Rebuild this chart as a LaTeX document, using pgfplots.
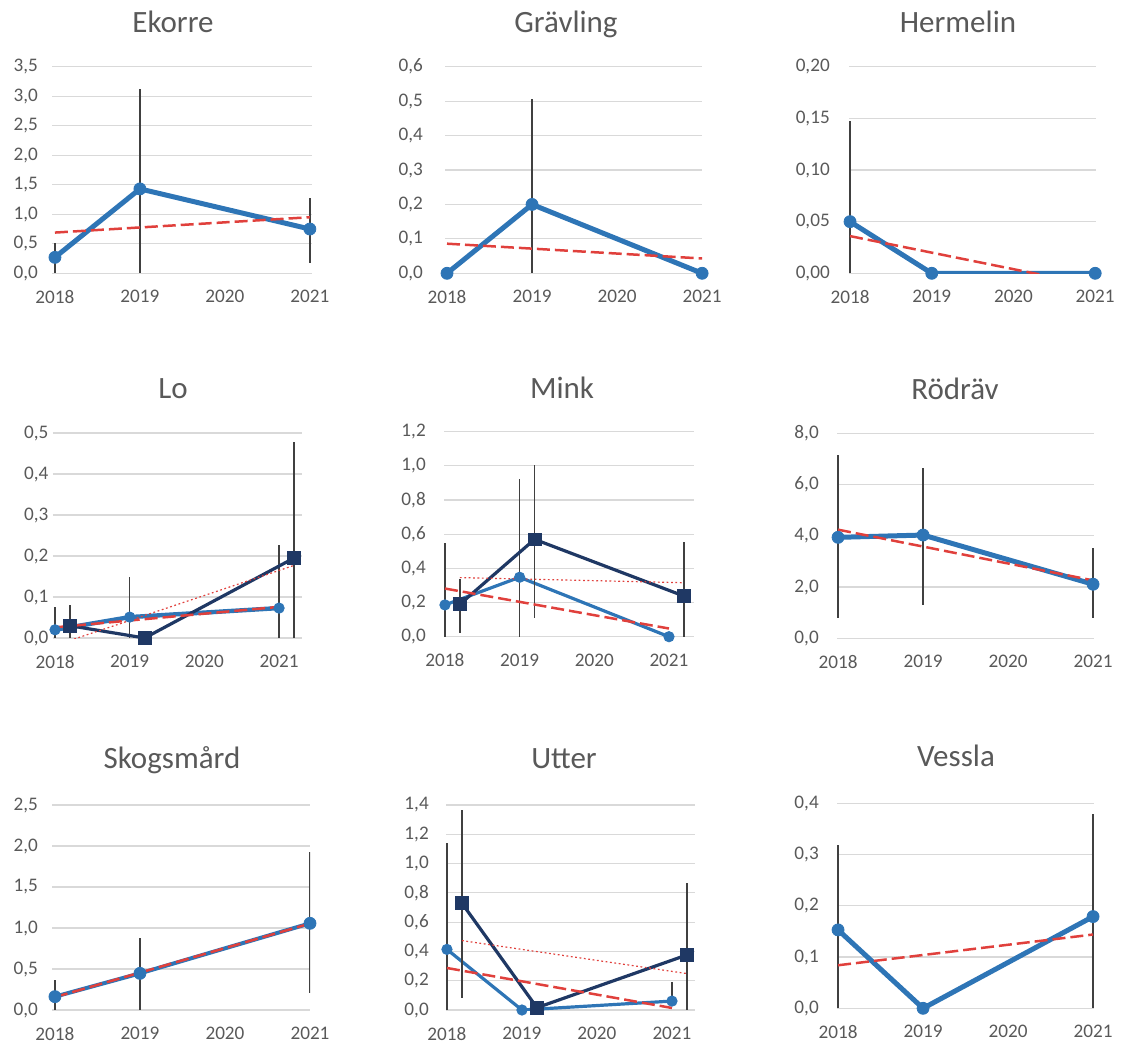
\documentclass[border=0pt]{standalone}
\usepackage{fontspec}
\setmainfont{Carlito}
\usepackage{pgfplots}
\pgfplotsset{compat=1.18}
\definecolor{cblue}{HTML}{2E75B6}
\definecolor{cnavy}{HTML}{1F3864}
\definecolor{cred}{HTML}{E0403C}
\definecolor{cgrid}{HTML}{D9D9D9}
\definecolor{clab}{HTML}{595959}
\definecolor{cerr}{HTML}{404040}
\pgfplotsset{
 panel/.style={
  scale only axis, anchor=south west,
  xtick={0,1,2,3}, xticklabels={2018,2019,2020,2021},
  ymin=0,
  axis line style={draw=none},
  major tick length=0pt,
  ymajorgrids, major grid style={draw=cgrid, line width=0.6pt},
  tick label style={font=\fontsize{9.6}{11}\selectfont, text=clab},
  xticklabel style={yshift=-5pt},
  /pgf/number format/fixed, /pgf/number format/fixed zerofill,
  /pgf/number format/precision=1, /pgf/number format/use comma,
  /pgf/number format/assume math mode=true,
 },
 errs/.style={/pgfplots/error bars/y dir=both, /pgfplots/error bars/y explicit,
  /pgfplots/error bars/error mark=none,
  /pgfplots/error bars/error bar style={line width=0.7pt, color=cerr, solid}},
 blue1/.style={color=cblue, line width=2.5pt, mark=*, mark size=3pt, mark options={solid, line width=0.4pt}, errs},
 blue2/.style={color=cblue, line width=1.6pt, mark=*, mark size=2.6pt, mark options={solid, line width=0.4pt}, errs},
 navy/.style={color=cnavy, line width=1.6pt, mark=square*, mark size=3.2pt, mark options={solid, line width=0.4pt}, errs},
 trendD/.style={color=cred, line width=1.25pt, dash pattern=on 6.5pt off 2.5pt, mark=none},
 trendT/.style={color=cred, line width=0.6pt, dash pattern=on 0.9pt off 1.3pt, mark=none},
}
\tikzset{ttl/.style={anchor=base, font=\fontsize{15.5}{18}\selectfont, text=clab}}
\begin{document}
\begin{tikzpicture}
\useasboundingbox (0,0) rectangle (561pt,523pt);
% ---------- Row 1 ----------
\node[ttl] at (86.5pt,506.8pt) {Ekorre};
\begin{axis}[panel, at={(26.2pt,386.35pt)}, width=130pt, height=103.3pt,
  xmin=-0.03, xmax=3.03, ymax=3.5, ytick={0,0.5,1,1.5,2,2.5,3,3.5},
  yticklabel style={xshift=-3.7pt}]
\addplot[blue1] coordinates {(0,0.27) += (0,0.24) -= (0,0.27)
  (1,1.43) += (0,1.70) -= (0,1.43)
  (3,0.75) += (0,0.52) -= (0,0.58)};
\addplot[trendD] coordinates {(0,0.69) (3,0.95)};
\end{axis}

\node[ttl] at (283pt,506.8pt) {Grävling};
\begin{axis}[panel, at={(222.65pt,386.35pt)}, width=128.4pt, height=103.3pt,
  xmin=-0.02, xmax=3.0, ymax=0.6, ytick={0,0.1,0.2,0.3,0.4,0.5,0.6},
  yticklabel style={xshift=-7.7pt}]
\addplot[blue1] coordinates {(0,0) (1,0.2) += (0,0.305) -= (0,0.2) (3,0)};
\addplot[trendD] coordinates {(0,0.086) (3,0.043)};
\end{axis}

\node[ttl] at (479pt,506.8pt) {Hermelin};
\begin{axis}[panel, at={(424.6pt,386.35pt)}, width=123.4pt, height=103.3pt,
  xmin=-0.01, xmax=3.01, ymax=0.2, ytick={0,0.05,0.1,0.15,0.2},
  /pgf/number format/precision=2,
  yticklabel style={xshift=-6.2pt}]
\addplot[blue1] coordinates {(0,0.05) += (0,0.097) -= (0,0.05) (1,0) (3,0)};
\addplot[trendD] coordinates {(0,0.036) (3,-0.012)};
\end{axis}

% ---------- Row 2 ----------
\node[ttl] at (86.5pt,323.8pt) {Lo};
\begin{axis}[panel, at={(26.4pt,204pt)}, width=124.7pt, height=102.5pt,
  xmin=-0.03, xmax=3.31, ymax=0.5, ytick={0,0.1,0.2,0.3,0.4,0.5},
  yticklabel style={xshift=1.3pt}]
\addplot[blue2, line width=2.2pt] coordinates {(0,0.02) += (0,0.056) -= (0,0.02)
  (1,0.051) += (0,0.098) -= (0,0.051)
  (3,0.073) += (0,0.154) -= (0,0.073)};
\addplot[navy] coordinates {(0.2,0.03) += (0,0.05) -= (0,0.03)
  (1.2,0)
  (3.2,0.195) += (0,0.283) -= (0,0.195)};
\addplot[trendD] coordinates {(0,0.026) (3,0.076)};
\addplot[trendT] coordinates {(0.2,-0.006) (3.2,0.177)};
\end{axis}

\node[ttl] at (281pt,323.8pt) {Mink};
\begin{axis}[panel, at={(222.1pt,204.65pt)}, width=124.7pt, height=102.5pt,
  xmin=-0.01, xmax=3.33, ymax=1.2, ytick={0,0.2,0.4,0.6,0.8,1,1.2},
  yticklabel style={xshift=-5.7pt}]
\addplot[blue2] coordinates {(0,0.186) += (0,0.361) -= (0,0.186)
  (1,0.348) += (0,0.574) -= (0,0.348)
  (3,0)};
\addplot[navy] coordinates {(0.2,0.19) += (0,0.146) -= (0,0.17)
  (1.2,0.57) += (0,0.435) -= (0,0.462)
  (3.2,0.238) += (0,0.318) -= (0,0.238)};
\addplot[trendD] coordinates {(0,0.282) (3,0.048)};
\addplot[trendT] coordinates {(0.2,0.346) (3.2,0.316)};
\end{axis}

\node[ttl] at (477.5pt,323.3pt) {Rödräv};
\begin{axis}[panel, at={(418.6pt,203.85pt)}, width=128.35pt, height=102.5pt,
  xmin=-0.01, xmax=3.01, ymax=8, ytick={0,2,4,6,8},
  yticklabel style={xshift=-5.7pt}]
\addplot[blue1] coordinates {(0,3.94) += (0,3.21) -= (0,3.16)
  (1,4.03) += (0,2.60) -= (0,2.73)
  (3,2.11) += (0,1.40) -= (0,1.33)};
\addplot[trendD] coordinates {(0,4.24) (3,2.26)};
\end{axis}

% ---------- Row 3 ----------
\node[ttl] at (86pt,138.8pt) {Skogsmård};
\begin{axis}[panel, at={(26.2pt,18pt)}, width=128.8pt, height=102.5pt,
  xmin=-0.03, xmax=3.0, ymax=2.5, ytick={0,0.5,1,1.5,2,2.5},
  yticklabel style={xshift=-3.7pt}]
\addplot[blue1, line width=2pt] coordinates {(0,0.163) += (0,0.203) -= (0,0.163)
  (1,0.447) += (0,0.427) -= (0,0.447)
  (3,1.057) += (0,0.873) -= (0,0.847)};
\addplot[trendD] coordinates {(0,0.157) (3,1.054)};
\end{axis}

\node[ttl] at (282pt,138.8pt) {Utter};
\begin{axis}[panel, at={(223.1pt,18pt)}, width=124.5pt, height=102.5pt,
  xmin=-0.01, xmax=3.31, ymax=1.4, ytick={0,0.2,0.4,0.6,0.8,1,1.2,1.4},
  yticklabel style={xshift=-5.2pt}]
\addplot[blue2] coordinates {(0,0.414) += (0,0.724) -= (0,0.414)
  (1,0)
  (3,0.061) += (0,0.129) -= (0,0.03)};
\addplot[navy] coordinates {(0.2,0.729) += (0,0.637) -= (0,0.649)
  (1.2,0.016)
  (3.2,0.376) += (0,0.494) -= (0,0.376)};
\addplot[trendD] coordinates {(0,0.287) (3,0.014)};
\addplot[trendT] coordinates {(0.2,0.474) (3.2,0.249)};
\end{axis}

\node[ttl] at (478pt,139.6pt) {Vessla};
\begin{axis}[panel, at={(418.6pt,18.85pt)}, width=128.35pt, height=102.5pt,
  xmin=-0.01, xmax=3.01, ymax=0.4, ytick={0,0.1,0.2,0.3,0.4},
  yticklabel style={xshift=-5.7pt}]
\addplot[blue1] coordinates {(0,0.153) += (0,0.166) -= (0,0.153)
  (1,0)
  (3,0.179) += (0,0.201) -= (0,0.179)};
\addplot[trendD] coordinates {(0,0.084) (3,0.144)};
\end{axis}
\end{tikzpicture}
\end{document}
